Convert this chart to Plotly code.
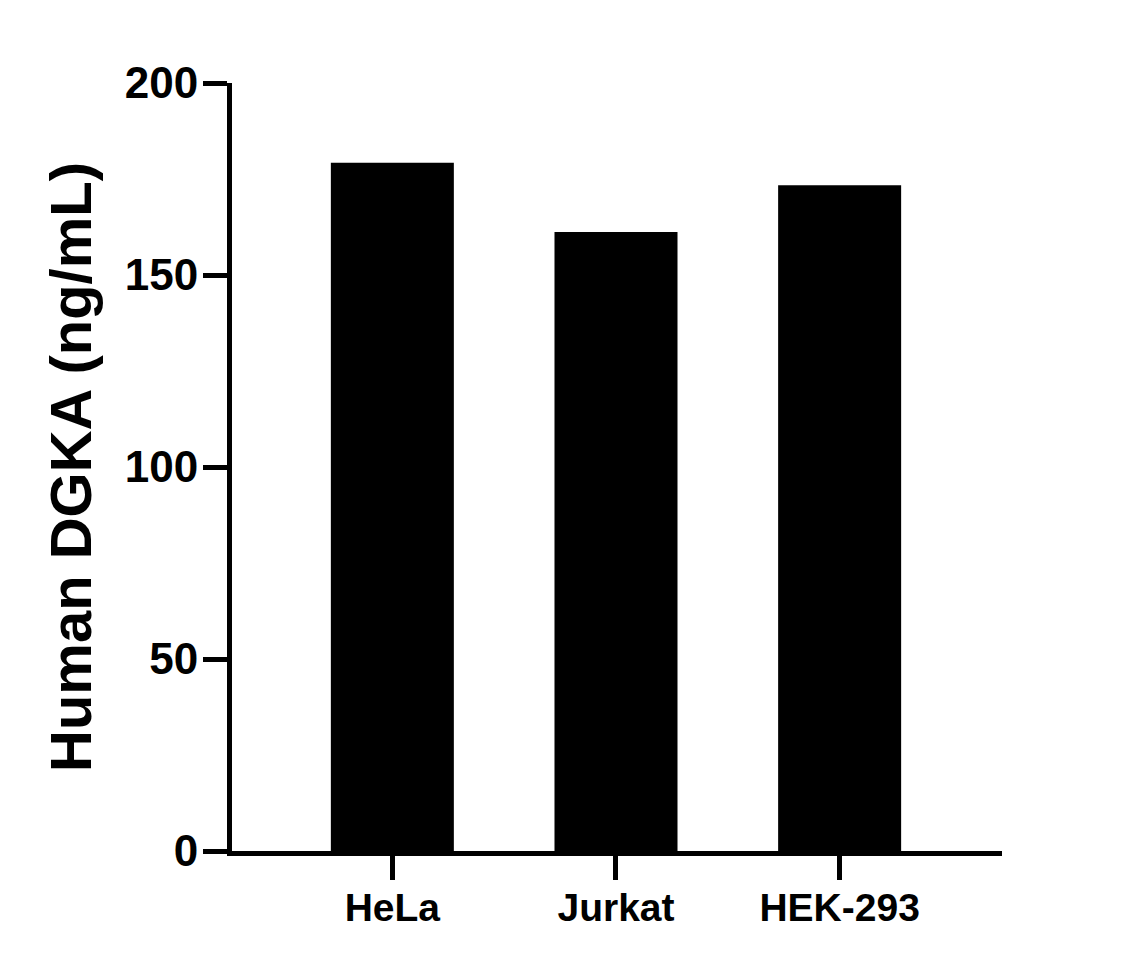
import plotly.graph_objects as go

cell_lines = ["HeLa", "Jurkat", "HEK-293"]
dgka_ng_ml = [179.2, 161.2, 173.4]
y_ticks = [0, 50, 100, 150, 200]

font_name = "Liberation Sans, Arial, sans-serif"

fig = go.Figure()
fig.add_trace(go.Bar(x=cell_lines, y=dgka_ng_ml, width=0.55,
                     marker=dict(color="black", line=dict(width=0))))

# the page body adds 8px, so margins are shifted back by that
fig.update_layout(
    width=1137, height=968,
    margin=dict(l=224, r=143, t=75, b=125),
    plot_bgcolor="white", paper_bgcolor="white",
    showlegend=False,
    font=dict(family=font_name, color="black"),
)

fig.update_xaxes(
    range=[-0.717, 2.726],
    showline=True, linecolor="black", linewidth=5,
    ticks="outside", ticklen=24, tickwidth=5, tickcolor="black",
    tickfont=dict(size=39, family=font_name, weight="bold"),
    ticklabelstandoff=-6,
    showgrid=False, zeroline=False,
)
fig.update_yaxes(
    range=[0, 200], tickvals=y_ticks,
    showline=True, linecolor="black", linewidth=5,
    ticks="outside", ticklen=24, tickwidth=5, tickcolor="black",
    tickfont=dict(size=44, family=font_name, weight="bold"),
    ticklabelstandoff=-4,
    title=dict(text="Human DGKA (ng/mL)", standoff=16,
               font=dict(size=58, family=font_name, weight="bold")),
    showgrid=False, zeroline=False,
)

fig.write_html("out.html")
